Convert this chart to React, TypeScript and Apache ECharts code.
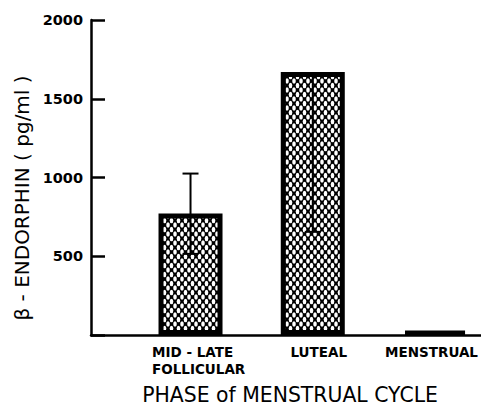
import React, { useEffect, useRef } from "react";
import * as echarts from "echarts";

const categories = ["MID - LATE\nFOLLICULAR", "LUTEAL", "MENSTRUAL"];
const means = [772, 1670, 25];
const errLow: (number | null)[] = [515, 655, null];
const errHigh: (number | null)[] = [1025, null, null];
const yMin = 0;
const yMax = 2000;
const yInterval = 500;
const yTitle = "\u03B2 - ENDORPHIN ( pg/ml )";
const xTitle = "PHASE of MENSTRUAL CYCLE";

const FONT = "DejaVu Sans";

function makePattern(): HTMLCanvasElement {
  const c = document.createElement("canvas");
  const w = 7;
  const h = 9;
  c.width = w;
  c.height = h;
  const ctx = c.getContext("2d")!;
  ctx.fillStyle = "#000";
  ctx.fillRect(0, 0, w, h);
  ctx.fillStyle = "#fff";
  const centers = [
    [w / 2, h / 2],
    [0, 0],
    [w, 0],
    [0, h],
    [w, h],
  ];
  for (const [cx, cy] of centers) {
    ctx.beginPath();
    ctx.ellipse(cx, cy, 1.8, 2.8, 0, 0, Math.PI * 2);
    ctx.fill();
  }
  return c;
}

export default function App() {
  const ref = useRef<HTMLDivElement>(null);
  useEffect(() => {
    if (!ref.current) return;
    const chart = echarts.init(ref.current, undefined, { renderer: "svg" });
    const pattern = makePattern();
    const errData = means.map((m, i) => [
      i,
      errLow[i] == null ? m : errLow[i],
      errHigh[i] == null ? m : errHigh[i],
      errLow[i] == null ? 0 : 1,
      errHigh[i] == null ? 0 : 1,
    ]);
    const labelBase = { fontFamily: FONT, fontWeight: "bold", fontSize: 13.5, lineHeight: 17 };
    chart.setOption({
      animation: false,
      backgroundColor: "#fff",
      grid: {
        left: 91,
        right: 0,
        top: 20,
        bottom: 81,
        containLabel: false,
        outerBoundsMode: "none",
      },
      graphic: [
        {
          type: "text",
          x: 22,
          y: 198,
          rotation: Math.PI / 2,
          style: {
            text: yTitle,
            fill: "#000",
            font: `20px "${FONT}"`,
            align: "center",
            verticalAlign: "middle",
          },
        },
      ],
      xAxis: {
        type: "value",
        min: -0.814,
        max: 2.376,
        axisLine: { show: true, onZero: false, lineStyle: { color: "#000", width: 2.5 } },
        axisTick: { show: false },
        splitLine: { show: false },
        axisLabel: {
          customValues: [0, 1, 2],
          formatter: (v: number) => {
            const i = Math.round(v);
            if (i === 0) {
              return categories[0]
                .split("\n")
                .map((s) => `{f|${s}}`)
                .join("\n");
            }
            return i === 1 ? `{s|${categories[1]}}` : `{m|${categories[i] ?? ""}}`;
          },
          color: "#000",
          ...labelBase,
          margin: 8,
          align: "center",
          rich: {
            f: { ...labelBase, width: 95, align: "left", padding: [0, 0, 0, 18] },
            s: { ...labelBase, padding: [0, 0, 0, 12] },
            m: { ...labelBase, padding: [0, 7, 0, 0] },
          },
        },
        name: xTitle,
        nameLocation: "middle",
        nameGap: 50,
        nameTextStyle: { color: "#000", fontFamily: FONT, fontSize: 20.4, padding: [0, 0, 0, 8] },
      },
      yAxis: {
        type: "value",
        min: yMin,
        max: yMax,
        interval: yInterval,
        axisLine: { show: true, onZero: false, lineStyle: { color: "#000", width: 2.5 } },
        axisTick: { show: true, inside: true, length: 14, lineStyle: { color: "#000", width: 2.5 } },
        splitLine: { show: false },
        axisLabel: {
          formatter: (v: number) => (v === 0 ? "" : String(v)),
          color: "#000",
          fontFamily: FONT,
          fontWeight: "bold",
          fontSize: 14.5,
          margin: 8,
        },
      },
      series: [
        {
          type: "bar",
          data: means.map((m, i) => [i, m]),
          barWidth: 64,
          itemStyle: {
            color: { image: pattern, repeat: "repeat" },
            borderColor: "#000",
            borderWidth: 5,
          },
          z: 2,
        },
        {
          type: "custom",
          z: 5,
          data: errData,
          renderItem: (params: any, api: any) => {
            const x = api.value(0);
            const lo = api.coord([x, api.value(1)]);
            const hi = api.coord([x, api.value(2)]);
            const capLo = api.value(3);
            const capHi = api.value(4);
            const hw = 8;
            const style = { stroke: "#000", lineWidth: 2 };
            const children: any[] = [
              { type: "line", shape: { x1: lo[0], y1: lo[1], x2: hi[0], y2: hi[1] }, style },
            ];
            if (capLo) children.push({ type: "line", shape: { x1: lo[0] - hw, y1: lo[1], x2: lo[0] + hw, y2: lo[1] }, style });
            if (capHi) children.push({ type: "line", shape: { x1: hi[0] - hw, y1: hi[1], x2: hi[0] + hw, y2: hi[1] }, style });
            if (!capLo && !capHi) return { type: "group", children: [] };
            return { type: "group", children };
          },
        },
      ],
    });
    return () => chart.dispose();
  }, []);
  return (
    <div
      ref={ref}
      style={{ position: "absolute", left: 0, top: 0, width: 481, height: 416 }}
    />
  );
}
